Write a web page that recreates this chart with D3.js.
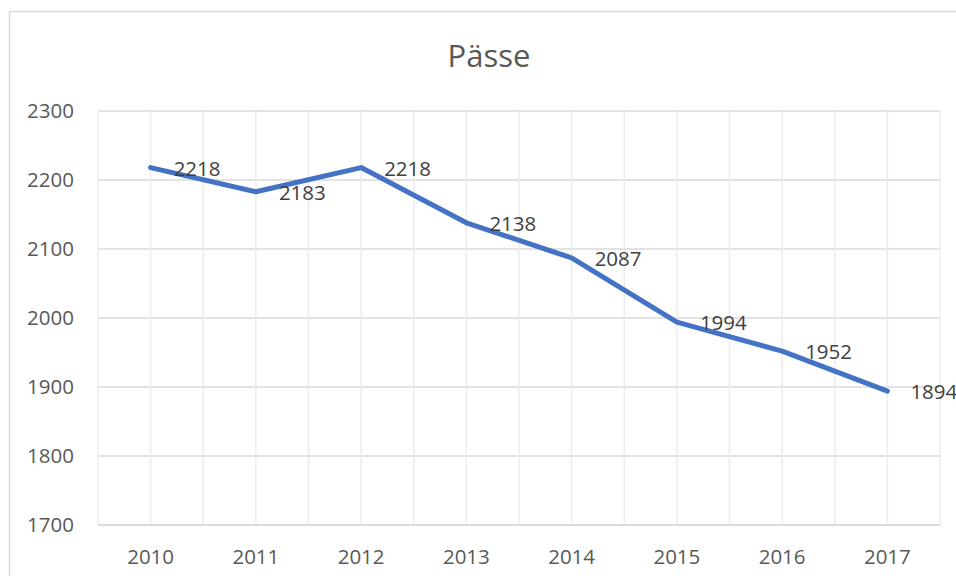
<!DOCTYPE html>
<html>
<head>
<meta charset="utf-8">
<script src="https://cdn.jsdelivr.net/npm/d3@7"></script>
<style>
  body { margin: 0; background: #fff; }
  text { font-family: 'Open Sans', 'Noto Sans', sans-serif; }
</style>
</head>
<body>
<svg id="chart"></svg>
<script>
const years = ['2010', '2011', '2012', '2013', '2014', '2015', '2016', '2017'];
const values = [2218, 2183, 2218, 2138, 2087, 1994, 1952, 1894];
const yTicks = [1700, 1800, 1900, 2000, 2100, 2200, 2300];
const title = 'Pässe';

const width = 956, height = 576;
const margin = {left: 98, right: 16, top: 111, bottom: 51};

let svg = d3.select('#chart').attr('width', width).attr('height', height);

// chart frame
svg.append('rect')
    .attr('x', 9.5).attr('y', 11.5)
    .attr('width', 960).attr('height', 600)
    .attr('fill', 'none')
    .attr('stroke', '#d9d9d9')
    .attr('stroke-width', 1.5);

let x = d3.scaleBand().domain(years).range([margin.left, width - margin.right]);
let y = d3.scaleLinear().domain([1700, 2300]).range([height - margin.bottom, margin.top]);

// horizontal gridlines
svg.append('g')
    .selectAll('line')
    .data(yTicks)
    .enter()
    .append('line')
    .attr('x1', margin.left).attr('x2', width - margin.right)
    .attr('y1', d => y(d)).attr('y2', d => y(d))
    .attr('stroke', '#d9d9d9')
    .attr('stroke-width', 1.5);

// vertical gridlines at category edges and centres
let vLines = [];
years.forEach(d => {
    vLines.push(x(d));
    vLines.push(x(d) + x.bandwidth() / 2);
});
vLines.push(width - margin.right);
svg.append('g')
    .selectAll('line')
    .data(vLines)
    .enter()
    .append('line')
    .attr('x1', d => d).attr('x2', d => d)
    .attr('y1', margin.top).attr('y2', height - margin.bottom)
    .attr('stroke', '#ececec')
    .attr('stroke-width', 1.5);

// bottom axis line
svg.append('line')
    .attr('x1', margin.left).attr('x2', width - margin.right)
    .attr('y1', y(1700)).attr('y2', y(1700))
    .attr('stroke', '#d9d9d9')
    .attr('stroke-width', 1.5);

// y tick labels
svg.append('g')
    .selectAll('text')
    .data(yTicks)
    .enter()
    .append('text')
    .attr('x', 74)
    .attr('y', d => y(d))
    .attr('dy', '0.35em')
    .attr('text-anchor', 'end')
    .attr('fill', '#595959')
    .style('font-size', '20.5px')
    .text(d => d);

// x tick labels
svg.append('g')
    .selectAll('text')
    .data(years)
    .enter()
    .append('text')
    .attr('x', d => x(d) + x.bandwidth() / 2)
    .attr('y', 564)
    .attr('text-anchor', 'middle')
    .attr('fill', '#595959')
    .style('font-size', '20.5px')
    .text(d => d);

// title
svg.append('text')
    .attr('x', 489)
    .attr('y', 67)
    .attr('text-anchor', 'middle')
    .attr('fill', '#595959')
    .style('font-size', '31px')
    .text(title);

// line
let line = d3.line()
    .x((d, i) => x(years[i]) + x.bandwidth() / 2)
    .y(d => y(d));
svg.append('path')
    .datum(values)
    .attr('d', line)
    .attr('fill', 'none')
    .attr('stroke', '#4472c4')
    .attr('stroke-width', 5)
    .attr('stroke-linejoin', 'round')
    .attr('stroke-linecap', 'round');

// data labels (right of points)
svg.append('g')
    .selectAll('text')
    .data(values)
    .enter()
    .append('text')
    .attr('x', (d, i) => x(years[i]) + x.bandwidth() / 2 + 23)
    .attr('y', d => y(d) + 1)
    .attr('dy', '0.35em')
    .attr('fill', '#404040')
    .style('font-size', '20.5px')
    .text(d => d);
</script>
</body>
</html>
